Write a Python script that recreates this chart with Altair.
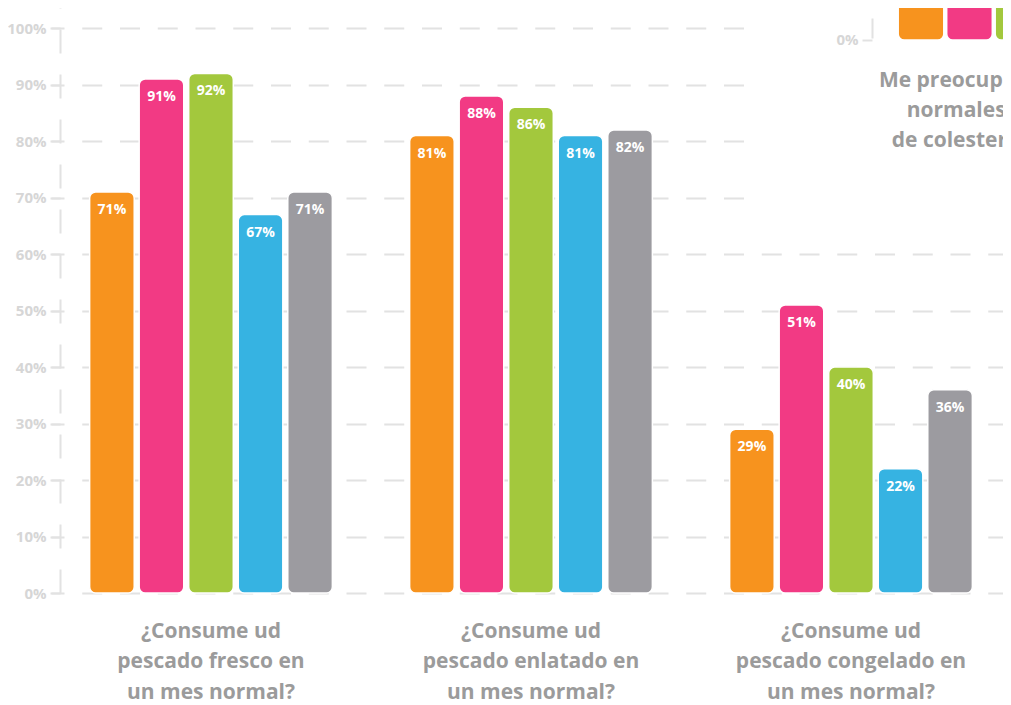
import altair as alt
import pandas as pd

# ---------------- data ----------------
groups = [
    "¿Consume ud|pescado fresco en|un mes normal?",
    "¿Consume ud|pescado enlatado en|un mes normal?",
    "¿Consume ud|pescado congelado en|un mes normal?",
]
series = ["Grupo 1", "Grupo 2", "Grupo 3", "Grupo 4", "Grupo 5"]
fresco = [71, 91, 92, 67, 71]
enlatado = [81, 88, 86, 81, 82]
congelado = [29, 51, 40, 22, 36]
colors = ["#F7931E", "#F23A84", "#A3C83D", "#36B3E2", "#9C9BA0"]
y_ticks = [0, 10, 20, 30, 40, 50, 60, 70, 80, 90, 100]

# partially visible neighbouring chart (top right, cut by the page edge)
inset_title = "Me preocupe tener niveles|normales de azúcar y|de colesterol en sangre?"
inset_series = ["Grupo 1", "Grupo 2", "Grupo 3"]
inset_values = [10, 12, 11]
inset_ticks = [0]

rows = []
for g, vals in zip(groups, [fresco, enlatado, congelado]):
    for s, v in zip(series, vals):
        rows.append({"grupo": g, "serie": s, "valor": v})
main_df = pd.DataFrame(rows)
inset_df = pd.DataFrame({"serie": inset_series, "valor": inset_values})
title_df = pd.DataFrame({"serie": [inset_series[2]], "texto": [inset_title]})
panel_df = pd.DataFrame({"k": [1]})

# ---------------- style ----------------
W = 943
H = 593
FONT = "Open Sans"
GRID = "#e2e2e2"
AXLAB = "#d6d6d6"
CAT = "#9b9b9b"

color_scale = alt.Scale(domain=series, range=colors)

x_main = alt.X(
    "grupo:N",
    sort=groups,
    scale=alt.Scale(domain=groups, range=[-9, 951], paddingInner=0, paddingOuter=0),
    axis=alt.Axis(
        title=None, domain=False, ticks=False, grid=False, labelAngle=0,
        labelExpr="split(datum.label, '|')", labelFont=FONT, labelFontSize=21,
        labelFontWeight="bold", labelColor=CAT, labelLineHeight=30.5,
        labelPadding=27, labelLimit=0,
    ),
)
xoff_main = alt.XOffset(
    "serie:N", sort=series,
    scale=alt.Scale(domain=series, paddingInner=0.1, paddingOuter=0.78),
)
y_main = alt.Y(
    "valor:Q",
    stack=None,
    scale=alt.Scale(domain=[0, 105], nice=False, zero=True),
    axis=alt.Axis(
        title=None, values=y_ticks, labelExpr="datum.value + '%'",
        grid=True, gridColor=GRID, gridWidth=2, gridDash=[20, 17.75], gridDashOffset=7,
        domain=True, domainColor=GRID, domainWidth=2, domainDash=[24, 21],
        ticks=True, tickColor=GRID, tickWidth=2, tickSize=10,
        labelFont=FONT, labelFontSize=15, labelFontWeight="bold", labelColor=AXLAB,
        labelPadding=4,
    ),
)

bars = alt.Chart(main_df).mark_bar(
    cornerRadius=6, stroke="white", strokeWidth=1.5
).encode(
    x=x_main, xOffset=xoff_main, y=y_main,
    color=alt.Color("serie:N", scale=color_scale, legend=None),
)
labels = alt.Chart(main_df).transform_calculate(
    etiqueta="datum.valor + '%'"
).mark_text(
    color="white", font=FONT, fontSize=14, fontWeight="bold", baseline="middle", dy=18
).encode(
    x=x_main, xOffset=xoff_main, y=y_main, text="etiqueta:N",
)
panel = alt.Chart(panel_df).mark_rect(color="white").encode(
    x=alt.value(693), x2=alt.value(W), y=alt.value(0), y2=alt.value(225)
)
main = alt.layer(bars, labels, panel)

# ---------------- inset (neighbouring chart, cut off) ----------------
x_inset = alt.X(
    "serie:N", sort=series,
    scale=alt.Scale(domain=series, range=[836.75, 1079.25], paddingInner=0.06, paddingOuter=0.03),
    axis=None,
)
y_inset = alt.Y(
    "valor:Q",
    stack=None,
    scale=alt.Scale(domain=[-97.9, 7.08], nice=False, zero=True),
    axis=alt.Axis(
        orient="left", offset=-812, title=None, values=inset_ticks,
        labelExpr="datum.value + '%'", grid=False,
        domain=True, domainColor=GRID, domainWidth=2, domainDash=[0, 555, 20, 300],
        ticks=True, tickColor=GRID, tickWidth=2, tickSize=10,
        labelFont=FONT, labelFontSize=15, labelFontWeight="bold", labelColor=AXLAB,
        labelPadding=4, zindex=1,
    ),
)

inset_bars = alt.Chart(inset_df).mark_bar(
    cornerRadius=6, stroke="white", strokeWidth=1.5
).encode(
    x=x_inset, y=y_inset,
    color=alt.Color("serie:N", scale=color_scale, legend=None),
)
inset_labels = alt.Chart(inset_df).transform_calculate(
    etiqueta="datum.valor + '%'"
).mark_text(
    color="white", font=FONT, fontSize=14, fontWeight="bold", baseline="middle", dy=18
).encode(
    x=x_inset, y=y_inset, text="etiqueta:N",
)
inset_text = alt.Chart(title_df).transform_calculate(
    lineas="split(datum.texto, '|')"
).mark_text(
    font=FONT, fontSize=21, fontWeight="bold", color=CAT, baseline="top",
    lineHeight=30, align="center", clip=True,
).encode(
    x=x_inset, y=alt.value(70), text="lineas:N",
)
inset = alt.layer(inset_bars, inset_labels, inset_text)

chart = alt.layer(main, inset).resolve_scale(
    x="independent", y="independent"
).properties(
    width=W, height=H,
    autosize=alt.AutoSizeParams(type="none"),
    padding={"left": 52, "top": -8, "right": 0, "bottom": 112},
).configure_view(stroke=None)

chart.save("out.html", embed_options={"renderer": "svg", "actions": False})
